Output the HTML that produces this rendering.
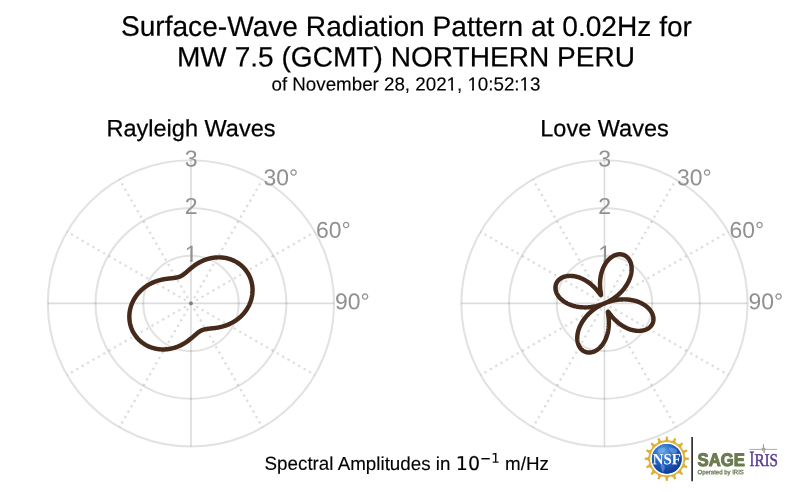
<!DOCTYPE html>
<html><head><meta charset="utf-8"><title>Surface-Wave Radiation Pattern</title>
<style>
html,body{margin:0;padding:0;background:#fff}
svg{display:block}
text{font-family:"Liberation Sans",sans-serif}
.t1{font-size:28.13px;fill:#000;stroke:#000;stroke-width:0.2px}
.t3{font-size:18.67px;fill:#000;stroke:#000;stroke-width:0.12px}
.st{font-size:23.5px;fill:#000;stroke:#000;stroke-width:0.25px}
.tk{font-size:22.9px;fill:#919191}
.tr{font-size:23.1px;fill:#919191}
.mt{font-family:"DejaVu Sans",sans-serif}
</style></head><body>
<svg width="800" height="493" viewBox="0 0 800 493">
<defs><radialGradient id="gl" cx="0.38" cy="0.28" r="0.85"><stop offset="0" stop-color="#5fa6ea"/><stop offset="0.45" stop-color="#1f62c4"/><stop offset="1" stop-color="#0a2f86"/></radialGradient></defs>
<rect width="800" height="493" fill="#ffffff"/>
<text x="406.45" y="36.0" text-anchor="middle" class="t1" transform="rotate(0.03 406.45 36.0)">Surface-Wave Radiation Pattern at 0.02Hz for</text>
<text x="406.0" y="66.5" text-anchor="middle" class="t1" style="font-size:28.08px" transform="rotate(0.03 406.0 66.5)">MW 7.5 (GCMT) NORTHERN PERU</text>
<text id="dateline" x="405.95" y="90.5" text-anchor="middle" class="t3" style="font-size:18.75px" transform="rotate(0.03 405.95 90.5)">of November 28, 2021, 10:52:13</text>
<circle cx="190.95" cy="303.4" r="47.70" fill="none" stroke="rgba(0,0,0,0.112)" stroke-width="2.1"/>
<circle cx="190.95" cy="303.4" r="95.40" fill="none" stroke="rgba(0,0,0,0.112)" stroke-width="2.1"/>
<circle cx="190.95" cy="303.4" r="143.10" fill="none" stroke="rgba(0,0,0,0.112)" stroke-width="2.1"/>
<line x1="190.95" y1="303.4" x2="190.95" y2="160.30" stroke="rgba(0,0,0,0.135)" stroke-width="1.7"/>
<line x1="190.95" y1="303.4" x2="262.50" y2="179.47" stroke="rgba(0,0,0,0.135)" stroke-width="2.3" stroke-dasharray="2.3 3.9" stroke-dashoffset="0.15"/>
<line x1="190.95" y1="303.4" x2="314.88" y2="231.85" stroke="rgba(0,0,0,0.135)" stroke-width="2.3" stroke-dasharray="2.3 3.9" stroke-dashoffset="0.15"/>
<line x1="190.95" y1="303.4" x2="334.05" y2="303.40" stroke="rgba(0,0,0,0.135)" stroke-width="1.7"/>
<line x1="190.95" y1="303.4" x2="314.88" y2="374.95" stroke="rgba(0,0,0,0.135)" stroke-width="2.3" stroke-dasharray="2.3 3.9" stroke-dashoffset="0.15"/>
<line x1="190.95" y1="303.4" x2="262.50" y2="427.33" stroke="rgba(0,0,0,0.135)" stroke-width="2.3" stroke-dasharray="2.3 3.9" stroke-dashoffset="0.15"/>
<line x1="190.95" y1="303.4" x2="190.95" y2="446.50" stroke="rgba(0,0,0,0.135)" stroke-width="1.7"/>
<line x1="190.95" y1="303.4" x2="119.40" y2="427.33" stroke="rgba(0,0,0,0.135)" stroke-width="2.3" stroke-dasharray="2.3 3.9" stroke-dashoffset="0.15"/>
<line x1="190.95" y1="303.4" x2="67.02" y2="374.95" stroke="rgba(0,0,0,0.135)" stroke-width="2.3" stroke-dasharray="2.3 3.9" stroke-dashoffset="0.15"/>
<line x1="190.95" y1="303.4" x2="47.85" y2="303.40" stroke="rgba(0,0,0,0.135)" stroke-width="1.7"/>
<line x1="190.95" y1="303.4" x2="67.02" y2="231.85" stroke="rgba(0,0,0,0.135)" stroke-width="2.3" stroke-dasharray="2.3 3.9" stroke-dashoffset="0.15"/>
<line x1="190.95" y1="303.4" x2="119.40" y2="179.47" stroke="rgba(0,0,0,0.135)" stroke-width="2.3" stroke-dasharray="2.3 3.9" stroke-dashoffset="0.15"/>
<circle cx="190.95" cy="303.4" r="1.6" fill="#808080"/>
<clipPath id="c1_190"><rect x="182.05" y="241.80" width="18" height="18.20"/><rect x="190.05" y="258.80" width="2.6" height="4"/></clipPath>
<text x="191.05" y="261.80" text-anchor="middle" class="tr" clip-path="url(#c1_190)" transform="rotate(0.03 191.05 261.80)">1</text>
<text x="191.05" y="214.10" text-anchor="middle" class="tr" transform="rotate(0.03 191.05 214.10)">2</text>
<text x="191.05" y="166.40" text-anchor="middle" class="tr" transform="rotate(0.03 191.05 166.40)">3</text>
<text x="263.55" y="185.32" class="tk" transform="rotate(0.03 263.55 185.32)">30°</text>
<text x="315.93" y="237.70" class="tk" transform="rotate(0.03 315.93 237.70)">60°</text>
<text x="335.10" y="309.25" class="tk" transform="rotate(0.03 335.10 309.25)">90°</text>
<path d="M190.95,268.21 L191.26,267.96 L191.57,267.70 L191.89,267.45 L192.21,267.20 L192.54,266.94 L192.87,266.69 L193.21,266.43 L193.55,266.18 L193.90,265.92 L194.25,265.67 L194.61,265.42 L194.97,265.16 L195.33,264.91 L195.71,264.66 L196.08,264.42 L196.46,264.17 L196.85,263.92 L197.24,263.68 L197.64,263.44 L198.04,263.20 L198.44,262.96 L198.86,262.73 L199.27,262.50 L199.69,262.27 L200.12,262.05 L200.55,261.83 L200.98,261.61 L201.42,261.39 L201.87,261.18 L202.32,260.98 L202.77,260.78 L203.23,260.58 L203.69,260.38 L204.16,260.20 L204.63,260.01 L205.11,259.83 L205.59,259.66 L206.07,259.49 L206.56,259.33 L207.05,259.17 L207.54,259.02 L208.04,258.87 L208.55,258.73 L209.05,258.60 L209.56,258.47 L210.07,258.35 L210.59,258.23 L211.11,258.12 L211.63,258.02 L212.16,257.92 L212.68,257.84 L213.21,257.75 L213.75,257.68 L214.28,257.61 L214.82,257.55 L215.35,257.50 L215.89,257.46 L216.44,257.42 L216.98,257.39 L217.53,257.37 L218.07,257.36 L218.62,257.35 L219.17,257.35 L219.72,257.36 L220.27,257.38 L220.82,257.41 L221.37,257.45 L221.92,257.49 L222.47,257.54 L223.02,257.60 L223.57,257.67 L224.12,257.75 L224.67,257.84 L225.21,257.93 L225.76,258.03 L226.31,258.15 L226.85,258.27 L227.39,258.40 L227.93,258.54 L228.47,258.68 L229.01,258.84 L229.54,259.00 L230.08,259.18 L230.61,259.36 L231.13,259.55 L231.66,259.75 L232.18,259.95 L232.70,260.17 L233.21,260.40 L233.72,260.63 L234.23,260.87 L234.73,261.12 L235.23,261.38 L235.72,261.65 L236.21,261.92 L236.70,262.21 L237.18,262.50 L237.66,262.80 L238.13,263.11 L238.59,263.42 L239.05,263.75 L239.51,264.08 L239.96,264.42 L240.40,264.77 L240.84,265.12 L241.27,265.48 L241.69,265.85 L242.11,266.23 L242.52,266.61 L242.93,267.01 L243.32,267.40 L243.71,267.81 L244.10,268.22 L244.47,268.64 L244.84,269.07 L245.21,269.50 L245.56,269.94 L245.91,270.38 L246.24,270.83 L246.57,271.28 L246.90,271.75 L247.21,272.21 L247.52,272.69 L247.82,273.16 L248.11,273.65 L248.39,274.13 L248.66,274.63 L248.92,275.13 L249.18,275.63 L249.42,276.13 L249.66,276.64 L249.89,277.16 L250.11,277.68 L250.32,278.20 L250.52,278.73 L250.71,279.26 L250.89,279.79 L251.06,280.32 L251.23,280.86 L251.38,281.41 L251.52,281.95 L251.66,282.50 L251.79,283.04 L251.90,283.60 L252.01,284.15 L252.10,284.70 L252.19,285.26 L252.27,285.82 L252.34,286.38 L252.40,286.94 L252.45,287.50 L252.49,288.06 L252.52,288.62 L252.54,289.18 L252.55,289.74 L252.55,290.31 L252.54,290.87 L252.53,291.43 L252.50,291.99 L252.46,292.55 L252.42,293.11 L252.36,293.67 L252.30,294.23 L252.23,294.79 L252.14,295.34 L252.05,295.90 L251.95,296.45 L251.84,297.00 L251.73,297.55 L251.60,298.09 L251.47,298.64 L251.32,299.18 L251.17,299.72 L251.01,300.25 L250.84,300.79 L250.66,301.31 L250.48,301.84 L250.28,302.36 L250.08,302.88 L249.87,303.40 L249.66,303.91 L249.43,304.42 L249.20,304.93 L248.96,305.43 L248.71,305.92 L248.46,306.41 L248.20,306.90 L247.93,307.38 L247.65,307.86 L247.37,308.34 L247.08,308.81 L246.79,309.27 L246.49,309.73 L246.18,310.18 L245.87,310.63 L245.55,311.07 L245.22,311.51 L244.89,311.94 L244.56,312.37 L244.22,312.79 L243.87,313.21 L243.52,313.62 L243.16,314.02 L242.80,314.42 L242.43,314.81 L242.06,315.20 L241.69,315.58 L241.31,315.96 L240.93,316.33 L240.54,316.69 L240.15,317.04 L239.76,317.39 L239.36,317.74 L238.96,318.08 L238.55,318.41 L238.15,318.74 L237.74,319.05 L237.32,319.37 L236.91,319.67 L236.49,319.98 L236.07,320.27 L235.65,320.56 L235.23,320.84 L234.80,321.12 L234.37,321.39 L233.94,321.65 L233.51,321.91 L233.08,322.16 L232.65,322.40 L232.22,322.64 L231.78,322.88 L231.35,323.10 L230.91,323.32 L230.47,323.54 L230.04,323.75 L229.60,323.95 L229.16,324.15 L228.73,324.34 L228.29,324.53 L227.86,324.71 L227.42,324.88 L226.98,325.05 L226.55,325.22 L226.12,325.38 L225.69,325.53 L225.25,325.68 L224.82,325.82 L224.39,325.96 L223.97,326.09 L223.54,326.22 L223.12,326.34 L222.69,326.46 L222.27,326.58 L221.86,326.69 L221.44,326.79 L221.02,326.90 L220.61,326.99 L220.20,327.09 L219.79,327.18 L219.39,327.26 L218.99,327.34 L218.59,327.42 L218.19,327.50 L217.79,327.57 L217.40,327.64 L217.01,327.70 L216.63,327.77 L216.24,327.83 L215.86,327.88 L215.49,327.94 L215.11,327.99 L214.74,328.04 L214.38,328.09 L214.01,328.13 L213.65,328.18 L213.30,328.22 L212.94,328.26 L212.59,328.30 L212.25,328.34 L211.91,328.37 L211.57,328.41 L211.23,328.45 L210.90,328.48 L210.57,328.52 L210.25,328.55 L209.93,328.58 L209.61,328.62 L209.30,328.65 L208.99,328.69 L208.68,328.72 L208.38,328.76 L208.08,328.79 L207.78,328.83 L207.49,328.87 L207.20,328.91 L206.92,328.95 L206.63,328.99 L206.36,329.04 L206.08,329.09 L205.81,329.13 L205.54,329.19 L205.27,329.24 L205.01,329.30 L204.75,329.35 L204.49,329.41 L204.24,329.48 L203.99,329.55 L203.74,329.62 L203.49,329.69 L203.25,329.77 L203.00,329.85 L202.76,329.93 L202.52,330.02 L202.29,330.11 L202.05,330.21 L201.82,330.31 L201.59,330.41 L201.36,330.52 L201.13,330.63 L200.90,330.74 L200.68,330.86 L200.45,330.99 L200.22,331.12 L200.00,331.25 L199.77,331.39 L199.55,331.53 L199.33,331.68 L199.10,331.83 L198.88,331.98 L198.65,332.14 L198.43,332.30 L198.20,332.47 L197.97,332.64 L197.74,332.82 L197.51,333.00 L197.28,333.18 L197.05,333.37 L196.81,333.57 L196.58,333.76 L196.34,333.96 L196.10,334.17 L195.86,334.37 L195.61,334.58 L195.36,334.80 L195.11,335.02 L194.86,335.24 L194.60,335.46 L194.34,335.69 L194.08,335.92 L193.82,336.15 L193.55,336.39 L193.27,336.62 L193.00,336.86 L192.72,337.10 L192.43,337.35 L192.14,337.59 L191.85,337.84 L191.56,338.09 L191.25,338.34 L190.95,338.59 L190.64,338.84 L190.33,339.10 L190.01,339.35 L189.69,339.60 L189.36,339.86 L189.03,340.11 L188.69,340.37 L188.35,340.62 L188.00,340.88 L187.65,341.13 L187.29,341.38 L186.93,341.64 L186.57,341.89 L186.19,342.14 L185.82,342.38 L185.44,342.63 L185.05,342.88 L184.66,343.12 L184.26,343.36 L183.86,343.60 L183.46,343.84 L183.04,344.07 L182.63,344.30 L182.21,344.53 L181.78,344.75 L181.35,344.97 L180.92,345.19 L180.48,345.41 L180.03,345.62 L179.58,345.82 L179.13,346.02 L178.67,346.22 L178.21,346.42 L177.74,346.60 L177.27,346.79 L176.79,346.97 L176.31,347.14 L175.83,347.31 L175.34,347.47 L174.85,347.63 L174.36,347.78 L173.86,347.93 L173.35,348.07 L172.85,348.20 L172.34,348.33 L171.83,348.45 L171.31,348.57 L170.79,348.68 L170.27,348.78 L169.74,348.88 L169.22,348.96 L168.69,349.05 L168.15,349.12 L167.62,349.19 L167.08,349.25 L166.55,349.30 L166.01,349.34 L165.46,349.38 L164.92,349.41 L164.37,349.43 L163.83,349.44 L163.28,349.45 L162.73,349.45 L162.18,349.44 L161.63,349.42 L161.08,349.39 L160.53,349.35 L159.98,349.31 L159.43,349.26 L158.88,349.20 L158.33,349.13 L157.78,349.05 L157.23,348.96 L156.69,348.87 L156.14,348.77 L155.59,348.65 L155.05,348.53 L154.51,348.40 L153.97,348.26 L153.43,348.12 L152.89,347.96 L152.36,347.80 L151.82,347.62 L151.29,347.44 L150.77,347.25 L150.24,347.05 L149.72,346.85 L149.20,346.63 L148.69,346.40 L148.18,346.17 L147.67,345.93 L147.17,345.68 L146.67,345.42 L146.18,345.15 L145.69,344.88 L145.20,344.59 L144.72,344.30 L144.24,344.00 L143.77,343.69 L143.31,343.38 L142.85,343.05 L142.39,342.72 L141.94,342.38 L141.50,342.03 L141.06,341.68 L140.63,341.32 L140.21,340.95 L139.79,340.57 L139.38,340.19 L138.97,339.79 L138.58,339.40 L138.19,338.99 L137.80,338.58 L137.43,338.16 L137.06,337.73 L136.69,337.30 L136.34,336.86 L135.99,336.42 L135.66,335.97 L135.33,335.52 L135.00,335.05 L134.69,334.59 L134.38,334.11 L134.08,333.64 L133.79,333.15 L133.51,332.67 L133.24,332.17 L132.98,331.67 L132.72,331.17 L132.48,330.67 L132.24,330.16 L132.01,329.64 L131.79,329.12 L131.58,328.60 L131.38,328.07 L131.19,327.54 L131.01,327.01 L130.84,326.48 L130.67,325.94 L130.52,325.39 L130.38,324.85 L130.24,324.30 L130.11,323.76 L130.00,323.20 L129.89,322.65 L129.80,322.10 L129.71,321.54 L129.63,320.98 L129.56,320.42 L129.50,319.86 L129.45,319.30 L129.41,318.74 L129.38,318.18 L129.36,317.62 L129.35,317.06 L129.35,316.49 L129.36,315.93 L129.37,315.37 L129.40,314.81 L129.44,314.25 L129.48,313.69 L129.54,313.13 L129.60,312.57 L129.67,312.01 L129.76,311.46 L129.85,310.90 L129.95,310.35 L130.06,309.80 L130.17,309.25 L130.30,308.71 L130.43,308.16 L130.58,307.62 L130.73,307.08 L130.89,306.55 L131.06,306.01 L131.24,305.49 L131.42,304.96 L131.62,304.44 L131.82,303.92 L132.03,303.40 L132.24,302.89 L132.47,302.38 L132.70,301.87 L132.94,301.37 L133.19,300.88 L133.44,300.39 L133.70,299.90 L133.97,299.42 L134.25,298.94 L134.53,298.46 L134.82,297.99 L135.11,297.53 L135.41,297.07 L135.72,296.62 L136.03,296.17 L136.35,295.73 L136.68,295.29 L137.01,294.86 L137.34,294.43 L137.68,294.01 L138.03,293.59 L138.38,293.18 L138.74,292.78 L139.10,292.38 L139.47,291.99 L139.84,291.60 L140.21,291.22 L140.59,290.84 L140.97,290.47 L141.36,290.11 L141.75,289.76 L142.14,289.41 L142.54,289.06 L142.94,288.72 L143.35,288.39 L143.75,288.06 L144.16,287.75 L144.58,287.43 L144.99,287.13 L145.41,286.82 L145.83,286.53 L146.25,286.24 L146.67,285.96 L147.10,285.68 L147.53,285.41 L147.96,285.15 L148.39,284.89 L148.82,284.64 L149.25,284.40 L149.68,284.16 L150.12,283.92 L150.55,283.70 L150.99,283.48 L151.43,283.26 L151.86,283.05 L152.30,282.85 L152.74,282.65 L153.17,282.46 L153.61,282.27 L154.04,282.09 L154.48,281.92 L154.92,281.75 L155.35,281.58 L155.78,281.42 L156.21,281.27 L156.65,281.12 L157.08,280.98 L157.51,280.84 L157.93,280.71 L158.36,280.58 L158.78,280.46 L159.21,280.34 L159.63,280.22 L160.04,280.11 L160.46,280.01 L160.88,279.90 L161.29,279.81 L161.70,279.71 L162.11,279.62 L162.51,279.54 L162.91,279.46 L163.31,279.38 L163.71,279.30 L164.11,279.23 L164.50,279.16 L164.89,279.10 L165.27,279.03 L165.66,278.97 L166.04,278.92 L166.41,278.86 L166.79,278.81 L167.16,278.76 L167.52,278.71 L167.89,278.67 L168.25,278.62 L168.60,278.58 L168.96,278.54 L169.31,278.50 L169.65,278.46 L169.99,278.43 L170.33,278.39 L170.67,278.35 L171.00,278.32 L171.33,278.28 L171.65,278.25 L171.97,278.22 L172.29,278.18 L172.60,278.15 L172.91,278.11 L173.22,278.08 L173.52,278.04 L173.82,278.01 L174.12,277.97 L174.41,277.93 L174.70,277.89 L174.98,277.85 L175.27,277.81 L175.54,277.76 L175.82,277.71 L176.09,277.67 L176.36,277.61 L176.63,277.56 L176.89,277.50 L177.15,277.45 L177.41,277.39 L177.66,277.32 L177.91,277.25 L178.16,277.18 L178.41,277.11 L178.65,277.03 L178.90,276.95 L179.14,276.87 L179.38,276.78 L179.61,276.69 L179.85,276.59 L180.08,276.49 L180.31,276.39 L180.54,276.28 L180.77,276.17 L181.00,276.06 L181.22,275.94 L181.45,275.81 L181.68,275.68 L181.90,275.55 L182.13,275.41 L182.35,275.27 L182.57,275.12 L182.80,274.97 L183.02,274.82 L183.25,274.66 L183.47,274.50 L183.70,274.33 L183.93,274.16 L184.16,273.98 L184.39,273.80 L184.62,273.62 L184.85,273.43 L185.09,273.23 L185.32,273.04 L185.56,272.84 L185.80,272.63 L186.04,272.43 L186.29,272.22 L186.54,272.00 L186.79,271.78 L187.04,271.56 L187.30,271.34 L187.56,271.11 L187.82,270.88 L188.08,270.65 L188.35,270.41 L188.63,270.18 L188.90,269.94 L189.18,269.70 L189.47,269.45 L189.76,269.21 L190.05,268.96 L190.34,268.71 L190.65,268.46Z" fill="none" stroke="#45291b" stroke-width="4.45" stroke-linejoin="round"/>
<text x="191.0" y="136.2" text-anchor="middle" class="st" transform="rotate(0.03 191.0 136.2)">Rayleigh Waves</text>
<circle cx="604.45" cy="303.4" r="47.70" fill="none" stroke="rgba(0,0,0,0.112)" stroke-width="2.1"/>
<circle cx="604.45" cy="303.4" r="95.40" fill="none" stroke="rgba(0,0,0,0.112)" stroke-width="2.1"/>
<circle cx="604.45" cy="303.4" r="143.10" fill="none" stroke="rgba(0,0,0,0.112)" stroke-width="2.1"/>
<line x1="604.45" y1="303.4" x2="604.45" y2="160.30" stroke="rgba(0,0,0,0.135)" stroke-width="1.7"/>
<line x1="604.45" y1="303.4" x2="676.00" y2="179.47" stroke="rgba(0,0,0,0.135)" stroke-width="2.3" stroke-dasharray="2.3 3.9" stroke-dashoffset="0.15"/>
<line x1="604.45" y1="303.4" x2="728.38" y2="231.85" stroke="rgba(0,0,0,0.135)" stroke-width="2.3" stroke-dasharray="2.3 3.9" stroke-dashoffset="0.15"/>
<line x1="604.45" y1="303.4" x2="747.55" y2="303.40" stroke="rgba(0,0,0,0.135)" stroke-width="1.7"/>
<line x1="604.45" y1="303.4" x2="728.38" y2="374.95" stroke="rgba(0,0,0,0.135)" stroke-width="2.3" stroke-dasharray="2.3 3.9" stroke-dashoffset="0.15"/>
<line x1="604.45" y1="303.4" x2="676.00" y2="427.33" stroke="rgba(0,0,0,0.135)" stroke-width="2.3" stroke-dasharray="2.3 3.9" stroke-dashoffset="0.15"/>
<line x1="604.45" y1="303.4" x2="604.45" y2="446.50" stroke="rgba(0,0,0,0.135)" stroke-width="1.7"/>
<line x1="604.45" y1="303.4" x2="532.90" y2="427.33" stroke="rgba(0,0,0,0.135)" stroke-width="2.3" stroke-dasharray="2.3 3.9" stroke-dashoffset="0.15"/>
<line x1="604.45" y1="303.4" x2="480.52" y2="374.95" stroke="rgba(0,0,0,0.135)" stroke-width="2.3" stroke-dasharray="2.3 3.9" stroke-dashoffset="0.15"/>
<line x1="604.45" y1="303.4" x2="461.35" y2="303.40" stroke="rgba(0,0,0,0.135)" stroke-width="1.7"/>
<line x1="604.45" y1="303.4" x2="480.52" y2="231.85" stroke="rgba(0,0,0,0.135)" stroke-width="2.3" stroke-dasharray="2.3 3.9" stroke-dashoffset="0.15"/>
<line x1="604.45" y1="303.4" x2="532.90" y2="179.47" stroke="rgba(0,0,0,0.135)" stroke-width="2.3" stroke-dasharray="2.3 3.9" stroke-dashoffset="0.15"/>
<circle cx="604.45" cy="303.4" r="1.6" fill="#808080"/>
<clipPath id="c1_604"><rect x="595.55" y="241.80" width="18" height="18.20"/><rect x="603.55" y="258.80" width="2.6" height="4"/></clipPath>
<text x="604.55" y="261.80" text-anchor="middle" class="tr" clip-path="url(#c1_604)" transform="rotate(0.03 604.55 261.80)">1</text>
<text x="604.55" y="214.10" text-anchor="middle" class="tr" transform="rotate(0.03 604.55 214.10)">2</text>
<text x="604.55" y="166.40" text-anchor="middle" class="tr" transform="rotate(0.03 604.55 166.40)">3</text>
<text x="677.05" y="185.32" class="tk" transform="rotate(0.03 677.05 185.32)">30°</text>
<text x="729.43" y="237.70" class="tk" transform="rotate(0.03 729.43 237.70)">60°</text>
<text x="748.60" y="309.25" class="tk" transform="rotate(0.03 748.60 309.25)">90°</text>
<path d="M604.45,265.40 L604.79,264.80 L605.13,264.22 L605.49,263.64 L605.86,263.08 L606.23,262.54 L606.62,262.01 L607.01,261.50 L607.41,261.00 L607.82,260.52 L608.24,260.06 L608.67,259.61 L609.10,259.18 L609.54,258.76 L609.98,258.36 L610.43,257.98 L610.88,257.62 L611.34,257.28 L611.81,256.95 L612.27,256.64 L612.75,256.35 L613.22,256.08 L613.70,255.83 L614.18,255.60 L614.66,255.38 L615.14,255.18 L615.62,255.01 L616.11,254.85 L616.59,254.71 L617.07,254.59 L617.56,254.49 L618.04,254.41 L618.52,254.35 L618.99,254.31 L619.47,254.28 L619.94,254.28 L620.41,254.29 L620.87,254.33 L621.33,254.38 L621.78,254.45 L622.23,254.54 L622.68,254.65 L623.11,254.78 L623.54,254.93 L623.97,255.09 L624.38,255.27 L624.79,255.47 L625.19,255.69 L625.59,255.93 L625.97,256.18 L626.34,256.45 L626.71,256.74 L627.06,257.05 L627.40,257.37 L627.73,257.70 L628.05,258.06 L628.36,258.43 L628.66,258.81 L628.94,259.21 L629.22,259.62 L629.48,260.05 L629.72,260.50 L629.95,260.95 L630.17,261.42 L630.38,261.91 L630.57,262.40 L630.74,262.91 L630.90,263.43 L631.05,263.96 L631.18,264.51 L631.29,265.06 L631.39,265.63 L631.48,266.20 L631.54,266.79 L631.59,267.38 L631.62,267.99 L631.64,268.60 L631.64,269.22 L631.62,269.84 L631.59,270.48 L631.54,271.12 L631.47,271.77 L631.38,272.42 L631.28,273.08 L631.16,273.74 L631.02,274.41 L630.86,275.08 L630.68,275.75 L630.49,276.43 L630.28,277.11 L630.05,277.80 L629.81,278.48 L629.54,279.17 L629.26,279.85 L628.96,280.54 L628.65,281.23 L628.31,281.91 L627.96,282.60 L627.60,283.28 L627.21,283.96 L626.81,284.64 L626.39,285.32 L625.95,285.99 L625.50,286.66 L625.03,287.32 L624.54,287.98 L624.04,288.64 L623.53,289.28 L622.99,289.93 L622.45,290.56 L621.88,291.19 L621.30,291.82 L620.71,292.43 L620.10,293.04 L619.48,293.64 L618.85,294.23 L618.20,294.81 L617.54,295.38 L616.86,295.94 L616.18,296.49 L615.48,297.03 L614.77,297.56 L614.04,298.08 L613.31,298.59 L612.57,299.08 L611.81,299.57 L611.05,300.04 L610.27,300.50 L609.49,300.94 L608.70,301.37 L607.90,301.79 L607.09,302.20 L606.27,302.59 L605.45,302.97 L604.62,303.33 L605.12,303.12 L605.96,302.79 L606.81,302.47 L607.66,302.17 L608.52,301.88 L609.38,301.61 L610.24,301.35 L611.11,301.11 L611.98,300.88 L612.85,300.67 L613.73,300.48 L614.60,300.30 L615.48,300.13 L616.35,299.99 L617.23,299.86 L618.10,299.74 L618.98,299.64 L619.85,299.56 L620.72,299.49 L621.58,299.44 L622.45,299.41 L623.31,299.39 L624.16,299.39 L625.01,299.40 L625.86,299.43 L626.70,299.48 L627.54,299.54 L628.37,299.61 L629.19,299.70 L630.00,299.81 L630.81,299.93 L631.61,300.07 L632.40,300.22 L633.18,300.38 L633.95,300.56 L634.71,300.75 L635.46,300.96 L636.20,301.18 L636.93,301.41 L637.65,301.66 L638.35,301.92 L639.04,302.19 L639.72,302.48 L640.39,302.77 L641.05,303.08 L641.69,303.40 L642.31,303.73 L642.92,304.07 L643.52,304.42 L644.10,304.78 L644.67,305.16 L645.22,305.54 L645.76,305.93 L646.27,306.32 L646.78,306.73 L647.26,307.15 L647.73,307.57 L648.18,308.00 L648.62,308.43 L649.03,308.87 L649.43,309.32 L649.81,309.78 L650.17,310.23 L650.52,310.70 L650.84,311.16 L651.15,311.63 L651.44,312.11 L651.71,312.59 L651.96,313.07 L652.19,313.55 L652.40,314.03 L652.59,314.51 L652.76,315.00 L652.92,315.48 L653.05,315.97 L653.17,316.45 L653.26,316.94 L653.34,317.42 L653.40,317.90 L653.43,318.38 L653.45,318.85 L653.45,319.32 L653.43,319.79 L653.39,320.25 L653.33,320.71 L653.25,321.16 L653.16,321.61 L653.04,322.05 L652.91,322.49 L652.76,322.92 L652.59,323.34 L652.40,323.75 L652.19,324.16 L651.97,324.56 L651.73,324.95 L651.47,325.33 L651.19,325.70 L650.90,326.06 L650.59,326.41 L650.27,326.74 L649.93,327.07 L649.57,327.39 L649.20,327.70 L648.81,327.99 L648.41,328.27 L647.99,328.54 L647.56,328.79 L647.11,329.04 L646.66,329.26 L646.18,329.48 L645.70,329.68 L645.20,329.87 L644.69,330.04 L644.17,330.19 L643.64,330.34 L643.10,330.46 L642.55,330.57 L641.98,330.67 L641.41,330.75 L640.83,330.81 L640.24,330.86 L639.64,330.89 L639.03,330.91 L638.42,330.90 L637.79,330.89 L637.17,330.85 L636.53,330.80 L635.89,330.73 L635.25,330.65 L634.60,330.54 L633.94,330.42 L633.28,330.29 L632.62,330.13 L631.96,329.96 L631.29,329.78 L630.62,329.57 L629.95,329.35 L629.28,329.11 L628.61,328.86 L627.94,328.59 L627.27,328.30 L626.60,328.00 L625.93,327.68 L625.27,327.35 L624.60,327.00 L623.94,326.63 L623.29,326.25 L622.64,325.86 L621.99,325.45 L621.34,325.02 L620.71,324.59 L620.08,324.14 L619.45,323.68 L618.84,323.20 L618.23,322.72 L617.63,322.22 L617.04,321.71 L616.45,321.20 L615.88,320.67 L615.32,320.14 L614.77,319.60 L614.23,319.06 L613.71,318.51 L613.20,317.96 L612.70,317.41 L612.22,316.87 L611.76,316.32 L611.32,315.79 L610.89,315.26 L610.49,314.75 L610.10,314.26 L609.75,313.79 L609.41,313.36 L609.11,312.96 L608.84,312.60 L608.60,312.30 L608.39,312.05 L608.22,311.87 L608.09,311.77 L607.99,311.74 L607.93,311.80 L607.90,311.94 L607.90,312.15 L607.92,312.44 L607.96,312.80 L608.02,313.22 L608.10,313.70 L608.18,314.22 L608.26,314.79 L608.35,315.39 L608.43,316.03 L608.51,316.69 L608.59,317.37 L608.66,318.08 L608.72,318.80 L608.77,319.53 L608.81,320.27 L608.84,321.03 L608.86,321.79 L608.87,322.56 L608.87,323.33 L608.85,324.10 L608.82,324.88 L608.78,325.66 L608.72,326.43 L608.65,327.21 L608.56,327.98 L608.47,328.75 L608.35,329.52 L608.23,330.28 L608.09,331.04 L607.94,331.79 L607.77,332.54 L607.59,333.28 L607.40,334.01 L607.19,334.73 L606.97,335.45 L606.74,336.15 L606.50,336.85 L606.24,337.53 L605.97,338.20 L605.69,338.87 L605.40,339.52 L605.09,340.16 L604.78,340.78 L604.45,341.40 L604.11,342.00 L603.77,342.58 L603.41,343.16 L603.04,343.72 L602.67,344.26 L602.28,344.79 L601.89,345.30 L601.49,345.80 L601.08,346.28 L600.66,346.74 L600.23,347.19 L599.80,347.62 L599.36,348.04 L598.92,348.44 L598.47,348.82 L598.02,349.18 L597.56,349.52 L597.09,349.85 L596.63,350.16 L596.15,350.45 L595.68,350.72 L595.20,350.97 L594.72,351.20 L594.24,351.42 L593.76,351.62 L593.28,351.79 L592.79,351.95 L592.31,352.09 L591.83,352.21 L591.34,352.31 L590.86,352.39 L590.38,352.45 L589.91,352.49 L589.43,352.52 L588.96,352.52 L588.49,352.51 L588.03,352.47 L587.57,352.42 L587.12,352.35 L586.67,352.26 L586.22,352.15 L585.79,352.02 L585.36,351.87 L584.93,351.71 L584.52,351.53 L584.11,351.33 L583.71,351.11 L583.31,350.87 L582.93,350.62 L582.56,350.35 L582.19,350.06 L581.84,349.75 L581.50,349.43 L581.17,349.10 L580.85,348.74 L580.54,348.37 L580.24,347.99 L579.96,347.59 L579.68,347.18 L579.42,346.75 L579.18,346.30 L578.95,345.85 L578.73,345.38 L578.52,344.89 L578.33,344.40 L578.16,343.89 L578.00,343.37 L577.85,342.84 L577.72,342.29 L577.61,341.74 L577.51,341.17 L577.42,340.60 L577.36,340.01 L577.31,339.42 L577.28,338.81 L577.26,338.20 L577.26,337.58 L577.28,336.96 L577.31,336.32 L577.36,335.68 L577.43,335.03 L577.52,334.38 L577.62,333.72 L577.74,333.06 L577.88,332.39 L578.04,331.72 L578.22,331.05 L578.41,330.37 L578.62,329.69 L578.85,329.00 L579.09,328.32 L579.36,327.63 L579.64,326.95 L579.94,326.26 L580.25,325.57 L580.59,324.89 L580.94,324.20 L581.30,323.52 L581.69,322.84 L582.09,322.16 L582.51,321.48 L582.95,320.81 L583.40,320.14 L583.87,319.48 L584.36,318.82 L584.86,318.16 L585.37,317.52 L585.91,316.87 L586.45,316.24 L587.02,315.61 L587.60,314.98 L588.19,314.37 L588.80,313.76 L589.42,313.16 L590.05,312.57 L590.70,311.99 L591.36,311.42 L592.04,310.86 L592.72,310.31 L593.42,309.77 L594.13,309.24 L594.86,308.72 L595.59,308.21 L596.33,307.72 L597.09,307.23 L597.85,306.76 L598.63,306.30 L599.41,305.86 L600.20,305.43 L601.00,305.01 L601.81,304.60 L602.63,304.21 L603.45,303.83 L604.28,303.47 L603.78,303.68 L602.94,304.01 L602.09,304.33 L601.24,304.63 L600.38,304.92 L599.52,305.19 L598.66,305.45 L597.79,305.69 L596.92,305.92 L596.05,306.13 L595.17,306.32 L594.30,306.50 L593.42,306.67 L592.55,306.81 L591.67,306.94 L590.80,307.06 L589.92,307.16 L589.05,307.24 L588.18,307.31 L587.32,307.36 L586.45,307.39 L585.59,307.41 L584.74,307.41 L583.89,307.40 L583.04,307.37 L582.20,307.32 L581.36,307.26 L580.53,307.19 L579.71,307.10 L578.90,306.99 L578.09,306.87 L577.29,306.73 L576.50,306.58 L575.72,306.42 L574.95,306.24 L574.19,306.05 L573.44,305.84 L572.70,305.62 L571.97,305.39 L571.25,305.14 L570.55,304.88 L569.86,304.61 L569.18,304.32 L568.51,304.03 L567.85,303.72 L567.21,303.40 L566.59,303.07 L565.98,302.73 L565.38,302.38 L564.80,302.02 L564.23,301.64 L563.68,301.26 L563.14,300.87 L562.63,300.48 L562.12,300.07 L561.64,299.65 L561.17,299.23 L560.72,298.80 L560.28,298.37 L559.87,297.93 L559.47,297.48 L559.09,297.02 L558.73,296.57 L558.38,296.10 L558.06,295.64 L557.75,295.17 L557.46,294.69 L557.19,294.21 L556.94,293.73 L556.71,293.25 L556.50,292.77 L556.31,292.29 L556.14,291.80 L555.98,291.32 L555.85,290.83 L555.73,290.35 L555.64,289.86 L555.56,289.38 L555.50,288.90 L555.47,288.42 L555.45,287.95 L555.45,287.48 L555.47,287.01 L555.51,286.55 L555.57,286.09 L555.65,285.64 L555.74,285.19 L555.86,284.75 L555.99,284.31 L556.14,283.88 L556.31,283.46 L556.50,283.05 L556.71,282.64 L556.93,282.24 L557.17,281.85 L557.43,281.47 L557.71,281.10 L558.00,280.74 L558.31,280.39 L558.63,280.06 L558.97,279.73 L559.33,279.41 L559.70,279.10 L560.09,278.81 L560.49,278.53 L560.91,278.26 L561.34,278.01 L561.79,277.76 L562.24,277.54 L562.72,277.32 L563.20,277.12 L563.70,276.93 L564.21,276.76 L564.73,276.61 L565.26,276.46 L565.80,276.34 L566.35,276.23 L566.92,276.13 L567.49,276.05 L568.07,275.99 L568.66,275.94 L569.26,275.91 L569.87,275.89 L570.48,275.90 L571.11,275.91 L571.73,275.95 L572.37,276.00 L573.01,276.07 L573.65,276.15 L574.30,276.26 L574.96,276.38 L575.62,276.51 L576.28,276.67 L576.94,276.84 L577.61,277.02 L578.28,277.23 L578.95,277.45 L579.62,277.69 L580.29,277.94 L580.96,278.21 L581.63,278.50 L582.30,278.80 L582.97,279.12 L583.63,279.45 L584.30,279.80 L584.96,280.17 L585.61,280.55 L586.26,280.94 L586.91,281.35 L587.56,281.78 L588.19,282.21 L588.82,282.66 L589.45,283.12 L590.06,283.60 L590.67,284.08 L591.27,284.58 L591.86,285.09 L592.45,285.60 L593.02,286.13 L593.58,286.66 L594.13,287.20 L594.67,287.74 L595.19,288.29 L595.70,288.84 L596.20,289.39 L596.68,289.93 L597.14,290.48 L597.58,291.01 L598.01,291.54 L598.41,292.05 L598.80,292.54 L599.15,293.01 L599.49,293.44 L599.79,293.84 L600.06,294.20 L600.30,294.50 L600.51,294.75 L600.68,294.93 L600.81,295.03 L600.91,295.06 L600.97,295.00 L601.00,294.86 L601.00,294.65 L600.98,294.36 L600.94,294.00 L600.88,293.58 L600.80,293.10 L600.72,292.58 L600.64,292.01 L600.55,291.41 L600.47,290.77 L600.39,290.11 L600.31,289.43 L600.24,288.72 L600.18,288.00 L600.13,287.27 L600.09,286.53 L600.06,285.77 L600.04,285.01 L600.03,284.24 L600.03,283.47 L600.05,282.70 L600.08,281.92 L600.12,281.14 L600.18,280.37 L600.25,279.59 L600.34,278.82 L600.43,278.05 L600.55,277.28 L600.67,276.52 L600.81,275.76 L600.96,275.01 L601.13,274.26 L601.31,273.52 L601.50,272.79 L601.71,272.07 L601.93,271.35 L602.16,270.65 L602.40,269.95 L602.66,269.27 L602.93,268.60 L603.21,267.93 L603.50,267.28 L603.81,266.64 L604.12,266.02Z" fill="none" stroke="#45291b" stroke-width="4.45" stroke-linejoin="round"/>
<text x="604.5" y="136.2" text-anchor="middle" class="st" transform="rotate(0.03 604.5 136.2)">Love Waves</text>
<text x="264.6" y="469.85" class="t3" style="font-size:18.8px" transform="rotate(0.03 264.6 469.85)">Spectral Amplitudes in <tspan class="mt" x="455.8" style="font-size:19px">10</tspan><tspan class="mt" style="font-size:13.3px" dy="-7.3">−1</tspan><tspan dy="7.3" x="505.1">m/Hz</tspan></text>
<g id="serif-trim"><rect x="447.14" y="88.95" width="4.05" height="2.00" fill="#fff"/><rect x="453.05" y="88.95" width="3.75" height="2.00" fill="#fff"/><rect x="467.98" y="88.95" width="4.05" height="2.00" fill="#fff"/><rect x="473.89" y="88.95" width="3.75" height="2.00" fill="#fff"/><rect x="520.12" y="88.95" width="4.05" height="2.00" fill="#fff"/><rect x="526.03" y="88.95" width="3.75" height="2.00" fill="#fff"/></g>

<g id="logo">
<g transform="translate(666.8,458.8)">
<circle r="17.5" fill="none" stroke="#e0b840" stroke-width="1.9"/>
<g fill="#dcae34">
<g transform="rotate(0.0)"><path d="M0,-21.4 L2.7,-17.4 L-2.7,-17.4Z"/><circle cx="0" cy="-21" r="1.25"/></g>
<g transform="rotate(22.5)"><path d="M0,-21.4 L2.7,-17.4 L-2.7,-17.4Z"/><circle cx="0" cy="-21" r="1.25"/></g>
<g transform="rotate(45.0)"><path d="M0,-21.4 L2.7,-17.4 L-2.7,-17.4Z"/><circle cx="0" cy="-21" r="1.25"/></g>
<g transform="rotate(67.5)"><path d="M0,-21.4 L2.7,-17.4 L-2.7,-17.4Z"/><circle cx="0" cy="-21" r="1.25"/></g>
<g transform="rotate(90.0)"><path d="M0,-21.4 L2.7,-17.4 L-2.7,-17.4Z"/><circle cx="0" cy="-21" r="1.25"/></g>
<g transform="rotate(112.5)"><path d="M0,-21.4 L2.7,-17.4 L-2.7,-17.4Z"/><circle cx="0" cy="-21" r="1.25"/></g>
<g transform="rotate(135.0)"><path d="M0,-21.4 L2.7,-17.4 L-2.7,-17.4Z"/><circle cx="0" cy="-21" r="1.25"/></g>
<g transform="rotate(157.5)"><path d="M0,-21.4 L2.7,-17.4 L-2.7,-17.4Z"/><circle cx="0" cy="-21" r="1.25"/></g>
<g transform="rotate(180.0)"><path d="M0,-21.4 L2.7,-17.4 L-2.7,-17.4Z"/><circle cx="0" cy="-21" r="1.25"/></g>
<g transform="rotate(202.5)"><path d="M0,-21.4 L2.7,-17.4 L-2.7,-17.4Z"/><circle cx="0" cy="-21" r="1.25"/></g>
<g transform="rotate(225.0)"><path d="M0,-21.4 L2.7,-17.4 L-2.7,-17.4Z"/><circle cx="0" cy="-21" r="1.25"/></g>
<g transform="rotate(247.5)"><path d="M0,-21.4 L2.7,-17.4 L-2.7,-17.4Z"/><circle cx="0" cy="-21" r="1.25"/></g>
<g transform="rotate(270.0)"><path d="M0,-21.4 L2.7,-17.4 L-2.7,-17.4Z"/><circle cx="0" cy="-21" r="1.25"/></g>
<g transform="rotate(292.5)"><path d="M0,-21.4 L2.7,-17.4 L-2.7,-17.4Z"/><circle cx="0" cy="-21" r="1.25"/></g>
<g transform="rotate(315.0)"><path d="M0,-21.4 L2.7,-17.4 L-2.7,-17.4Z"/><circle cx="0" cy="-21" r="1.25"/></g>
<g transform="rotate(337.5)"><path d="M0,-21.4 L2.7,-17.4 L-2.7,-17.4Z"/><circle cx="0" cy="-21" r="1.25"/></g>
</g>
<circle r="14.9" fill="#1c57b5"/>
<circle r="14.9" fill="url(#gl)"/>
<path d="M-9,-9 q3,-3 7,-2 q2,2 -1,4 q-3,1 -3,4 q-3,-1 -3,-6Z M2,-11 q4,-1 8,2 q1,3 -2,4 q-4,0 -6,-6Z M-6,5 q3,0 4,3 q0,4 -2,6 q-2,-3 -2,-9Z" fill="#8db8ee" opacity="0.45"/>
<text x="0" y="5.4" text-anchor="middle" style="font-family:'Liberation Serif',serif;font-weight:bold;font-size:15.8px;fill:#ffffff;stroke:#4a67a8;stroke-width:0.4px;paint-order:stroke" textLength="28" lengthAdjust="spacingAndGlyphs" transform="rotate(0.03 0 5.4)">NSF</text>
</g>
<line x1="692.1" y1="436.9" x2="692.1" y2="481.3" stroke="#000" stroke-width="1.4"/>
<text x="697.6" y="465.5" style="font-family:'Liberation Sans',sans-serif;font-weight:bold;font-size:18.2px;fill:#6b7c50;stroke:#6b7c50;stroke-width:1.1px;stroke-linejoin:round" textLength="47.2" lengthAdjust="spacingAndGlyphs" transform="rotate(0.03 697.6 465.5)">SAGE</text>
<text x="697.5" y="474.3" style="font-family:'Liberation Sans',sans-serif;font-size:6.4px;fill:#62734a;stroke:#62734a;stroke-width:0.25px" textLength="46.3" lengthAdjust="spacingAndGlyphs" transform="rotate(0.03 697.5 474.3)">Operated by IRIS</text>
<text x="749.4" y="466.2" style="font-family:'Liberation Serif',serif;font-size:21.6px;fill:#5a3c96;stroke:#5a3c96;stroke-width:0.5px" textLength="4.8" lengthAdjust="spacingAndGlyphs" transform="rotate(0.03 749.4 466.2)">I</text>
<text x="754.4" y="466.2" style="font-family:'Liberation Serif',serif;font-size:18px;fill:#5a3c96;stroke:#5a3c96;stroke-width:0.5px" textLength="23.6" lengthAdjust="spacingAndGlyphs" transform="rotate(0.03 754.4 466.2)">RIS</text>
<path d="M749.4,449.4 H760.5 l0.6,-0.5 l0.6,0.9 l0.6,-1.6 l0.6,2.6 l0.6,-6.4 l0.6,8.6 l0.6,-5 l0.6,2 l0.6,-0.9 l0.6,0.3 H777" fill="none" stroke="#8f8f8f" stroke-width="0.75"/>
</g>

</svg>
</body></html>
